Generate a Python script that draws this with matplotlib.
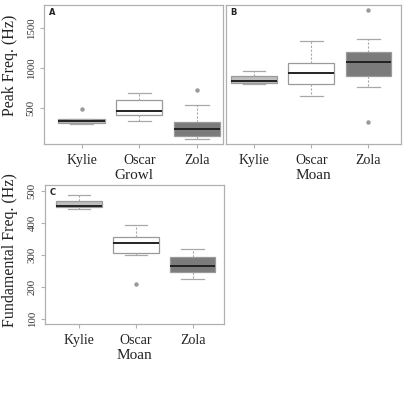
import matplotlib
matplotlib.use("Agg")
import matplotlib.pyplot as plt

plt.rcParams['font.family'] = ['Liberation Serif', 'DejaVu Serif']

groups = ['Kylie', 'Oscar', 'Zola']

# Panel A: Growl peak frequency (Hz)
growl_peak_whislo = [300, 337, 116]
growl_peak_q1 = [316, 412, 150]
growl_peak_med = [341, 462, 237]
growl_peak_q3 = [359, 600, 329]
growl_peak_whishi = [362, 683, 537]
growl_peak_fliers = [[483], [], [725]]

# Panel B: Moan peak frequency (Hz)
moan_peak_whislo = [800, 650, 766]
moan_peak_q1 = [818, 800, 900]
moan_peak_med = [840, 941, 1075]
moan_peak_q3 = [898, 1058, 1204]
moan_peak_whishi = [956, 1341, 1358]
moan_peak_fliers = [[], [], [1725, 321]]

# Panel C: Moan fundamental frequency (Hz)
moan_fund_whislo = [443, 300, 226]
moan_fund_q1 = [448, 307, 247]
moan_fund_med = [452, 337, 267]
moan_fund_q3 = [469, 355, 293]
moan_fund_whishi = [488, 392, 318]
moan_fund_fliers = [[], [209], []]

peak_ticks = [500, 1000, 1500]
fund_ticks = [100, 200, 300, 400, 500]

fills = ['#bebebe', '#ffffff', '#7b7b7b']

W, H = 403, 409
fig = plt.figure(figsize=(W / 100, H / 100), dpi=100)


def px_axes(left, top, right, bottom):
    return fig.add_axes([left / W, 1 - bottom / H, (right - left) / W, (bottom - top) / H])


def make_stats(lo, q1, med, q3, hi, fl):
    return [dict(whislo=lo[i], q1=q1[i], med=med[i], q3=q3[i], whishi=hi[i],
                 fliers=fl[i], label=groups[i]) for i in range(len(groups))]


def draw(ax, stats, xlim, ylim, yticks, xlabel, ylabel, letter, ylab_y=0.5, ylab_dx=26):
    bp = ax.bxp(stats, positions=[1, 2, 3], widths=0.8, patch_artist=True,
                showfliers=True,
                boxprops=dict(edgecolor='#9a9a9a', linewidth=0.9),
                medianprops=dict(color='#222222', linewidth=1.4),
                whiskerprops=dict(color='#a8a8a8', linewidth=0.8, linestyle=(0, (2, 1.5))),
                capprops=dict(color='#a8a8a8', linewidth=0.9),
                capwidths=0.4,
                flierprops=dict(marker='o', markersize=2.2, markerfacecolor='#9a9a9a',
                                markeredgecolor='#9a9a9a'))
    for patch, c in zip(bp['boxes'], fills):
        patch.set_facecolor(c)
    ax.set_xlim(*xlim)
    ax.set_ylim(*ylim)
    for s in ax.spines.values():
        s.set_color('#b0b0b0')
        s.set_linewidth(0.9)
    ax.set_xticks([1, 2, 3])
    ax.set_xticklabels(groups, fontsize=10, color='#222222')
    ax.tick_params(axis='x', length=3, color='#b0b0b0', pad=4)
    if yticks is not None:
        ax.set_yticks(yticks)
        ax.set_yticklabels([str(t) for t in yticks], rotation=90, va='center',
                           fontsize=7.8, color='#333333')
        ax.tick_params(axis='y', length=3, color='#b0b0b0', pad=3)
    else:
        ax.set_yticks([])
    if xlabel:
        ax.set_xlabel(xlabel, fontsize=11, color='#222222', labelpad=1.5)
    if ylabel:
        ax.set_ylabel(ylabel, fontsize=11.5, color='#222222')
        ax.yaxis.set_label_coords(-float(ylab_dx) / (ax.get_position().width * W), ylab_y)
    ax.text(0.025, 0.975, letter, transform=ax.transAxes, ha='left', va='top',
            fontsize=6, fontweight='bold', family='DejaVu Sans', color='#222222')


axA = px_axes(44, 5, 223, 144)
draw(axA, make_stats(growl_peak_whislo, growl_peak_q1, growl_peak_med, growl_peak_q3,
                     growl_peak_whishi, growl_peak_fliers),
     (0.35, 3.45), (50, 1787), peak_ticks, 'Growl', 'Peak Freq. (Hz)', 'A',
     ylab_y=(144 - 65) / 139, ylab_dx=26)

axB = px_axes(226, 5, 401, 144)
draw(axB, make_stats(moan_peak_whislo, moan_peak_q1, moan_peak_med, moan_peak_q3,
                     moan_peak_whishi, moan_peak_fliers),
     (0.51, 3.57), (50, 1787), None, 'Moan', None, 'B')

axC = px_axes(45, 185, 224, 324)
draw(axC, make_stats(moan_fund_whislo, moan_fund_q1, moan_fund_med, moan_fund_q3,
                     moan_fund_whishi, moan_fund_fliers),
     (0.40, 3.55), (85.4, 517.7), fund_ticks, 'Moan', 'Fundamental Freq. (Hz)', 'C',
     ylab_y=(324 - 250) / 139, ylab_dx=27)

fig.savefig('out.png', dpi=100, facecolor='white')
